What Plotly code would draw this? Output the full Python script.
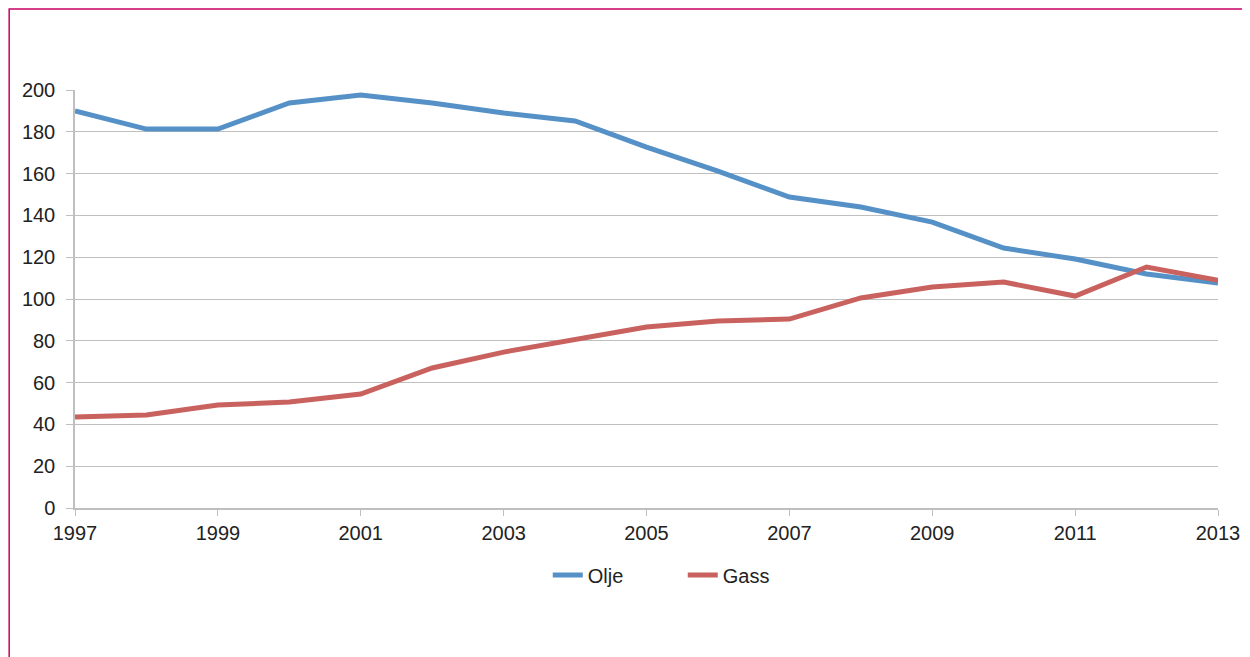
import plotly.graph_objects as go

years = list(range(1997, 2014))
olje = [190, 181.3, 181.3, 193.8, 197.6, 193.8, 189, 185.2, 172.7, 161.2, 148.8, 144, 136.8, 124.4, 119.1, 112, 107.7]
gass = [43.5, 44.5, 49.3, 50.7, 54.5, 67, 74.6, 80.4, 86.6, 89.5, 90.4, 100.5, 105.7, 108.1, 101.4, 115.3, 109]
x_ticks = list(range(1997, 2014, 2))
y_ticks = list(range(0, 201, 20))

fig = go.Figure()
fig.add_trace(go.Scatter(x=years, y=olje, mode="lines", name="Olje",
                         line=dict(color="#5591C7", width=5)))
fig.add_trace(go.Scatter(x=years, y=gass, mode="lines", name="Gass",
                         line=dict(color="#C9625E", width=5)))

W, H = 1244, 649
L, T, R, B = 67, 82, 31, 149
PW = W - L - R
PH = H - T - B

fig.update_layout(
    width=W, height=H,
    margin=dict(l=L, r=R, t=T, b=B),
    paper_bgcolor="white", plot_bgcolor="white",
    font=dict(family="Liberation Sans, Arial, sans-serif", size=20, color="#222222"),
    showlegend=True,
    legend=dict(orientation="h", x=(549 - 8 - L) / PW, xanchor="left", y=-67 / PH, yanchor="middle",
                font=dict(size=20), traceorder="normal", entrywidth=90, entrywidthmode="pixels"),
    xaxis=dict(range=[1997, 2013], tickvals=x_ticks, showgrid=False,
               showline=True, linecolor="#BFBFBF", linewidth=1.5,
               ticks="outside", ticklen=6, tickcolor="#BFBFBF", zeroline=False),
    yaxis=dict(range=[0, 200], tickvals=y_ticks, showgrid=True, gridcolor="#BFBFBF",
               gridwidth=1, showline=True, linecolor="#BFBFBF", linewidth=1.5,
               ticks="outside", ticklen=7, tickcolor="#BFBFBF", zeroline=False,
               ticklabelstandoff=7),
)

fig.add_shape(type="rect", xref="paper", yref="paper",
              x0=(1 - L) / PW, x1=1.2, y0=-0.6, y1=(PH + T - 1) / PH,
              line=dict(color="#CC0066", width=1.5), layer="below")

fig.write_html("out.html")
